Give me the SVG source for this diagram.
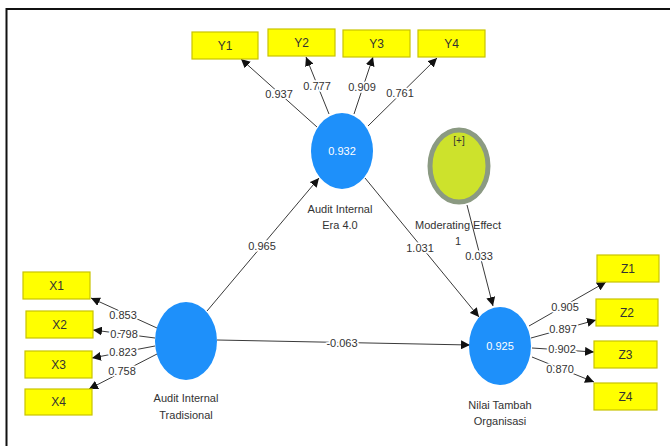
<svg xmlns="http://www.w3.org/2000/svg" width="670" height="446" viewBox="0 0 670 446">
  <style>
    .ind rect { fill: #ffff00; stroke: #c9c400; stroke-width: 1.2; }
    .ind text { font-family: "Liberation Sans", Arial, sans-serif; font-size: 12px; fill: #333; text-anchor: middle; }
    .lv ellipse { fill: #1e90fa; }
    .val { font-family: "Liberation Sans", Arial, sans-serif; font-size: 11px; fill: #ffffff; text-anchor: middle; }
    .cap { font-family: "Liberation Sans", Arial, sans-serif; font-size: 11px; fill: #333; text-anchor: middle; }
    .edge line { stroke: #3a3a3a; stroke-width: 1; marker-end: url(#arrow); }
    .coef { font-family: "Liberation Sans", Arial, sans-serif; font-size: 11px; fill: #333; text-anchor: middle; stroke: #ffffff; stroke-width: 3.5; paint-order: stroke; stroke-linejoin: round; }
  </style>
  <defs>
    <marker id="arrow" markerUnits="userSpaceOnUse" markerWidth="10" markerHeight="9" refX="9" refY="4.5" orient="auto">
      <path d="M0,0 L9,4.5 L0,9 z" fill="#111"/>
    </marker>
  </defs>

  <rect width="670" height="446" fill="#ffffff"/>
  <!-- frame -->
  <path d="M670,9 H6.5 V446" fill="none" stroke="#111" stroke-width="2"/>

  <!-- connectors -->
  <g id="connectors" class="edge">
    <line x1="317" y1="127" x2="241" y2="59"/>
    <line x1="329" y1="114" x2="306" y2="57"/>
    <line x1="354" y1="114" x2="373" y2="57"/>
    <line x1="368" y1="126" x2="437" y2="58"/>
    <line x1="207" y1="311" x2="319" y2="178"/>
    <line x1="365" y1="178" x2="479" y2="317"/>
    <line x1="467" y1="205" x2="493" y2="306"/>
    <line x1="217" y1="340" x2="470" y2="345"/>
    <line x1="157" y1="328" x2="91" y2="298"/>
    <line x1="155" y1="338" x2="93" y2="330"/>
    <line x1="155" y1="346" x2="92" y2="358"/>
    <line x1="157" y1="354" x2="89" y2="389"/>
    <line x1="529" y1="326" x2="606" y2="282"/>
    <line x1="531" y1="338" x2="596" y2="320"/>
    <line x1="532" y1="348" x2="594" y2="352"/>
    <line x1="532" y1="357" x2="594" y2="382"/>
  </g>

  <!-- path coefficients and loadings -->
  <g id="coefficients">
    <text class="coef" x="279" y="98">0.937</text>
    <text class="coef" x="317" y="90">0.777</text>
    <text class="coef" x="362" y="91">0.909</text>
    <text class="coef" x="400" y="97">0.761</text>
    <text class="coef" x="262" y="250">0.965</text>
    <text class="coef" x="420" y="252">1.031</text>
    <text class="coef" x="479" y="260">0.033</text>
    <text class="coef" x="342" y="347">-0.063</text>
    <text class="coef" x="123" y="319">0.853</text>
    <text class="coef" x="124" y="338">0.798</text>
    <text class="coef" x="123" y="356">0.823</text>
    <text class="coef" x="122" y="375">0.758</text>
    <text class="coef" x="565" y="311">0.905</text>
    <text class="coef" x="563" y="333">0.897</text>
    <text class="coef" x="562" y="353">0.902</text>
    <text class="coef" x="560" y="373">0.870</text>
  </g>

  <!-- latent variables -->
  <g id="audit-era40" class="lv">
    <ellipse cx="342" cy="151" rx="31" ry="38"/>
    <text class="val" x="342" y="155">0.932</text>
    <text class="cap" x="340" y="213">Audit Internal</text>
    <text class="cap" x="340" y="229">Era 4.0</text>
  </g>
  <g id="moderating-effect">
    <ellipse cx="459" cy="166" rx="29" ry="36" fill="#cde22c" stroke="#8b9a82" stroke-width="5"/>
    <text x="459" y="144" font-family="Liberation Sans, Arial, sans-serif" font-size="10" fill="#333" text-anchor="middle">[+]</text>
    <text class="cap" x="458" y="229">Moderating Effect</text>
    <text class="cap" x="458" y="245">1</text>
  </g>
  <g id="audit-tradisional" class="lv">
    <ellipse cx="186" cy="341" rx="31" ry="39"/>
    <text class="cap" x="186" y="402">Audit Internal</text>
    <text class="cap" x="186" y="419">Tradisional</text>
  </g>
  <g id="nilai-tambah" class="lv">
    <ellipse cx="500" cy="346" rx="31" ry="39"/>
    <text class="val" x="500" y="350">0.925</text>
    <text class="cap" x="500" y="409">Nilai Tambah</text>
    <text class="cap" x="500" y="425">Organisasi</text>
  </g>

  <!-- indicators -->
  <g id="Y1" class="ind"><rect x="192" y="32" width="66" height="27"/><text x="225" y="50">Y1</text></g>
  <g id="Y2" class="ind"><rect x="268" y="29" width="67" height="27"/><text x="301.5" y="47">Y2</text></g>
  <g id="Y3" class="ind"><rect x="343" y="30" width="67" height="27"/><text x="376.5" y="48">Y3</text></g>
  <g id="Y4" class="ind"><rect x="418" y="30" width="67" height="27"/><text x="451.5" y="48">Y4</text></g>

  <g id="X1" class="ind"><rect x="23" y="272" width="67" height="27"/><text x="56.5" y="290">X1</text></g>
  <g id="X2" class="ind"><rect x="26" y="311" width="67" height="27"/><text x="59.5" y="329">X2</text></g>
  <g id="X3" class="ind"><rect x="25" y="351" width="67" height="27"/><text x="58.5" y="369">X3</text></g>
  <g id="X4" class="ind"><rect x="25" y="389" width="67" height="26"/><text x="58.5" y="406">X4</text></g>

  <g id="Z1" class="ind"><rect x="597" y="255" width="62" height="27"/><text x="628" y="273">Z1</text></g>
  <g id="Z2" class="ind"><rect x="596" y="299" width="62" height="27"/><text x="627" y="317">Z2</text></g>
  <g id="Z3" class="ind"><rect x="594" y="341" width="63" height="27"/><text x="625.5" y="359">Z3</text></g>
  <g id="Z4" class="ind"><rect x="594" y="383" width="63" height="27"/><text x="625.5" y="401">Z4</text></g>
</svg>
